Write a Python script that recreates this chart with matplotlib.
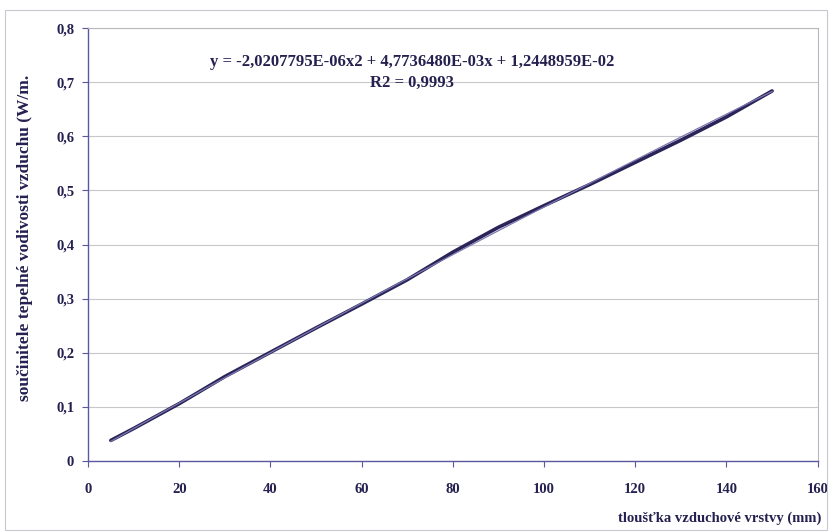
import matplotlib.pyplot as plt
import numpy as np
from matplotlib.patches import Rectangle
from matplotlib.ticker import FuncFormatter

# tloušťka vrstvy (mm) a součinitel
x_mm = [5, 10, 20, 30, 40, 50, 60, 70, 80, 90, 100, 110, 120, 130, 140, 150]
lam = [0.038, 0.060, 0.106, 0.156, 0.201, 0.246, 0.290, 0.335, 0.386, 0.432, 0.472, 0.511, 0.552, 0.593, 0.636, 0.684]

# koeficienty trendu (z rovnice v grafu)
coef = [-2.0207795e-06, 4.7736480e-03, 1.2448959e-02]

plt.rcParams['font.family'] = ['Liberation Serif', 'DejaVu Serif']
navy = '#24204f'

fig = plt.figure(figsize=(8.32, 5.32), dpi=100)
ax = fig.add_axes([0.1058, 0.1335, 0.877, 0.8135])

ax.plot(x_mm, lam, color='#2a2458', lw=2.6, solid_capstyle='round')
xt = np.linspace(min(x_mm), max(x_mm), 100)
ax.plot(xt, np.polyval(coef, xt), color='#7a78b0', lw=0.9)

ax.set_xlim(0, 160)
ax.set_ylim(0, 0.8)
ax.set_xticks(range(0, 161, 20))
ax.set_yticks(np.arange(0, 0.81, 0.1))
ax.yaxis.set_major_formatter(FuncFormatter(lambda v, p: '0' if v == 0 else ('%.1f' % v).replace('.', ',')))
ax.grid(axis='y', color='#c8c8cc', lw=0.8)
ax.set_axisbelow(True)

for s in ['top', 'right']:
    ax.spines[s].set_color('#b8b8bc')
for s in ['left', 'bottom']:
    ax.spines[s].set_color('#5a58a0')
    ax.spines[s].set_linewidth(1.0)
ax.tick_params(axis='x', pad=12)
ax.tick_params(axis='y', pad=6)
ax.tick_params(colors='#5a58a0', length=4, width=0.8, labelcolor=navy, labelsize=10.5)
for lab in ax.get_xticklabels() + ax.get_yticklabels():
    lab.set_fontweight('bold')

ax.text(71, 0.7375, 'y = -2,0207795E-06x2 + 4,7736480E-03x + 1,2448959E-02',
        ha='center', va='center', fontsize=12, fontweight='bold', color=navy)
ax.text(71, 0.699, 'R2 = 0,9993', ha='center', va='center', fontsize=12,
        fontweight='bold', color=navy)

fig.text(0.865, 0.025, 'tloušťka vzduchové vrstvy (mm)', ha='center', va='center',
         fontsize=10.5, fontweight='bold', color=navy)
fig.text(0.030, 0.553, 'součinitele tepelné vodivosti vzduchu (W/m.', rotation=90,
         ha='center', va='center', fontsize=12.5, fontweight='bold', color=navy)

fig.patches.append(Rectangle((0.006, 0.004), 0.988, 0.978, transform=fig.transFigure,
                             fill=False, ec='#c8c8d0', lw=0.8))

fig.savefig('out.png', dpi=100)
